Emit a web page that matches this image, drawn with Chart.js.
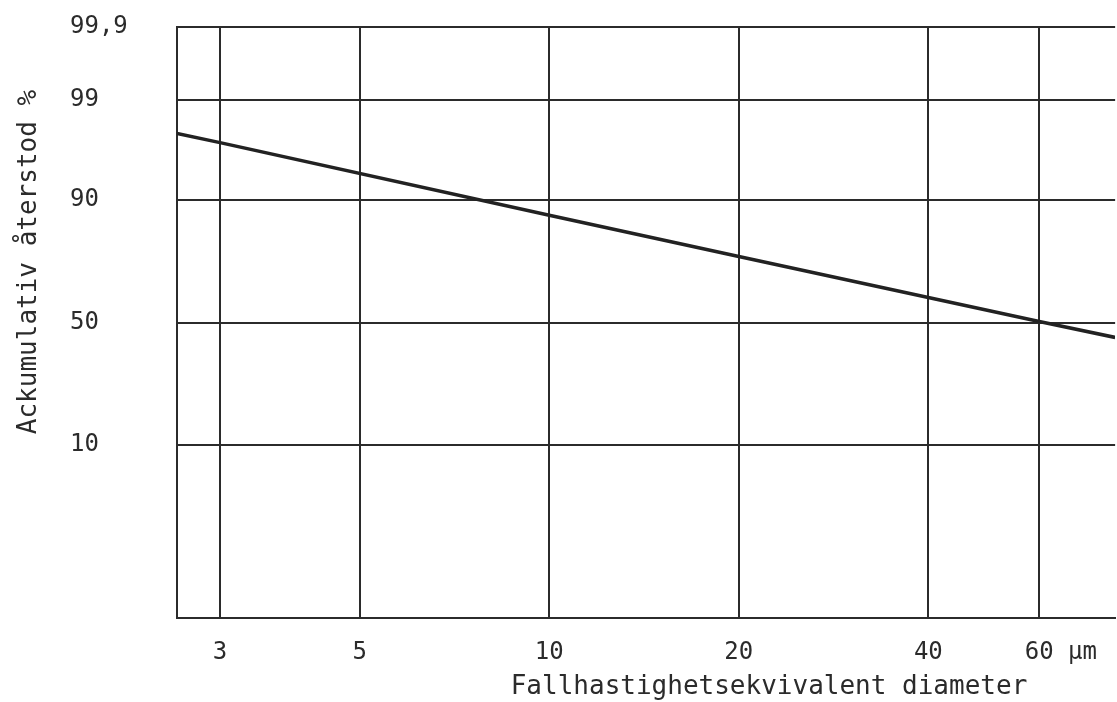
<!DOCTYPE html>
<html>
<head>
<meta charset="utf-8">
<script src="https://cdn.jsdelivr.net/npm/chart.js@4/dist/chart.umd.min.js"></script>
<style>
    body { margin: 0; background: #ffffff; }
    #wrap { width: 1117px; height: 702px; }
</style>
</head>
<body>
<div id="wrap"><canvas id="sizeChart" width="1117" height="702"></canvas></div>
<script>
// Values
const diameters = [2.563, 3, 10, 20, 60, 79.2]          // µm
const residuePercent = [97.6, 97.0, 86.9, 75.5, 50.4, 43.8] // cumulative residue %

const xTicks = [3, 5, 10, 20, 40, 60]
const xTickLabels = ['3', '5', '10', '20', '40', '   60 µm']
const yTicks = [10, 50, 90, 99, 99.9]
const yTickLabels = ['10', '50', '90', '99', '99,9']

const X_MIN = 2.563
const X_MAX = 79.2
const Y_MIN_PCT = 0.1
const Y_MAX_PCT = 99.9

const INK = '#2b2b2b'
const FONT = "'DejaVu Sans Mono', 'Liberation Mono', monospace"

// Inverse normal CDF (Acklam) - the y axis is a probability scale
function probit(p) {
    const a = [-3.969683028665376e+01, 2.209460984245205e+02, -2.759285104469687e+02, 1.383577518672690e+02, -3.066479806614716e+01, 2.506628277459239e+00]
    const b = [-5.447609879822406e+01, 1.615858368580409e+02, -1.556989798598866e+02, 6.680131188771972e+01, -1.328068155288572e+01]
    const c = [-7.784894002430293e-03, -3.223964580411365e-01, -2.400758277161838e+00, -2.549732539343734e+00, 4.374664141464968e+00, 2.938163982698783e+00]
    const d = [7.784695709041462e-03, 3.224671290700398e-01, 2.445134137142996e+00, 3.754408661907416e+00]
    const pl = 0.02425
    if (p < pl) {
        const q = Math.sqrt(-2 * Math.log(p))
        return (((((c[0]*q+c[1])*q+c[2])*q+c[3])*q+c[4])*q+c[5]) / ((((d[0]*q+d[1])*q+d[2])*q+d[3])*q+1)
    }
    if (p <= 1 - pl) {
        const q = p - 0.5, r = q * q
        return (((((a[0]*r+a[1])*r+a[2])*r+a[3])*r+a[4])*r+a[5])*q / (((((b[0]*r+b[1])*r+b[2])*r+b[3])*r+b[4])*r+1)
    }
    const q = Math.sqrt(-2 * Math.log(1 - p))
    return -(((((c[0]*q+c[1])*q+c[2])*q+c[3])*q+c[4])*q+c[5]) / ((((d[0]*q+d[1])*q+d[2])*q+d[3])*q+1)
}
const pctToZ = (pct) => probit(pct / 100)

// Axis titles are placed where the original has them (not centred on the plot)
const axisTitles = {
    id: 'axisTitles',
    afterDraw(chart) {
        const ctx = chart.ctx
        ctx.save()
        ctx.fillStyle = INK
        ctx.font = `26px ${FONT}`
        ctx.textAlign = 'center'
        ctx.textBaseline = 'middle'
        ctx.fillText('Fallhastighetsekvivalent diameter', 769, 687)
        ctx.translate(29, 262)
        ctx.rotate(-Math.PI / 2)
        ctx.fillText('Ackumulativ återstod %', 0, 0)
        ctx.restore()
    }
}

window.onload = () => {
    const ctx = document.getElementById('sizeChart').getContext('2d')
    new Chart(ctx, {
        type: 'line',
        data: {
            datasets: [{
                data: diameters.map((d, i) => ({ x: d, y: pctToZ(residuePercent[i]) })),
                borderColor: '#222222',
                borderWidth: 3.5,
                pointRadius: 0,
                tension: 0,
                fill: false
            }]
        },
        options: {
            responsive: false,
            animation: false,
            layout: { padding: { left: 70, top: 27, right: 0, bottom: 0 } },
            plugins: { legend: { display: false }, tooltip: { enabled: false } },
            scales: {
                x: {
                    type: 'logarithmic',
                    min: X_MIN,
                    max: X_MAX,
                    afterBuildTicks: (scale) => { scale.ticks = xTicks.map((v) => ({ value: v })) },
                    afterFit: (scale) => { scale.height = 84 },
                    ticks: {
                        autoSkip: false,
                        maxRotation: 0,
                        padding: 20,
                        color: INK,
                        font: { family: FONT, size: 24 },
                        callback: (value) => {
                            const i = xTicks.indexOf(value)
                            return i >= 0 ? xTickLabels[i] : ''
                        }
                    },
                    grid: { color: INK, lineWidth: 2, drawTicks: false },
                    border: { color: INK, width: 2 }
                },
                y: {
                    type: 'linear',
                    min: pctToZ(Y_MIN_PCT),
                    max: pctToZ(Y_MAX_PCT),
                    afterBuildTicks: (scale) => { scale.ticks = yTicks.map((v) => ({ value: pctToZ(v) })) },
                    afterFit: (scale) => { scale.width = 107 },
                    ticks: {
                        autoSkip: false,
                        crossAlign: 'far',
                        color: INK,
                        font: { family: FONT, size: 24 },
                        callback: (value, index) => yTickLabels[index]
                    },
                    grid: { color: INK, lineWidth: 2, drawTicks: false },
                    border: { color: INK, width: 2 }
                }
            }
        },
        plugins: [axisTitles]
    })
}
</script>
</body>
</html>
